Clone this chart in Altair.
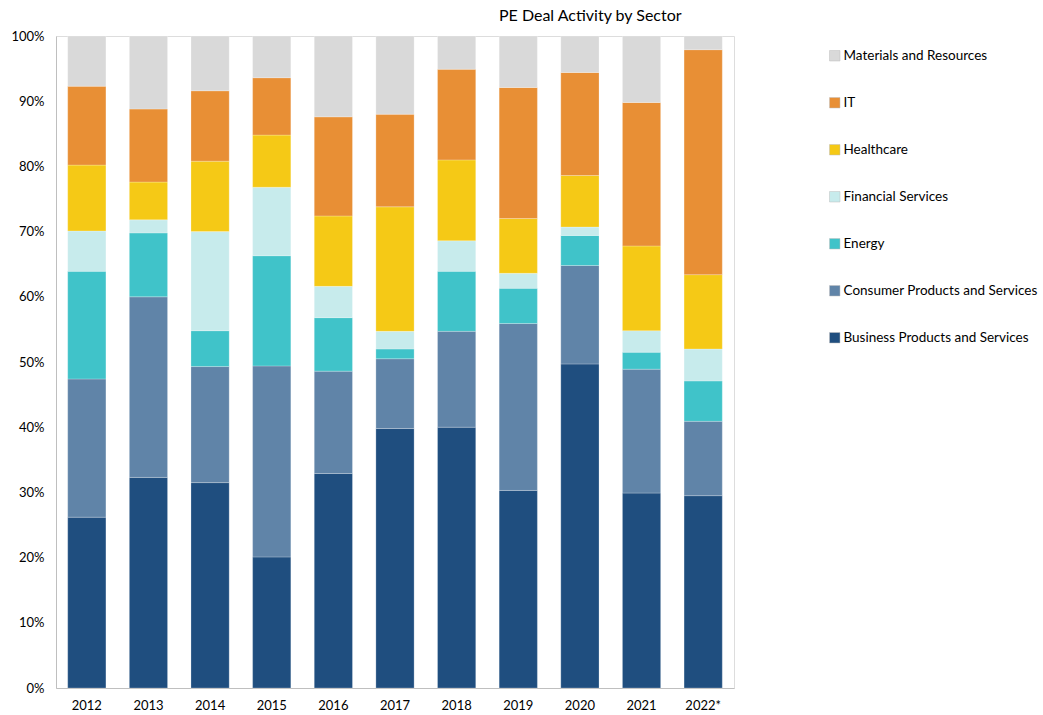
import altair as alt
import pandas as pd

years = ["2012", "2013", "2014", "2015", "2016", "2017", "2018", "2019", "2020", "2021", "2022*"]

# sectors listed bottom -> top of stack
sectors = [
    "Business Products and Services",
    "Consumer Products and Services",
    "Energy",
    "Financial Services",
    "Healthcare",
    "IT",
    "Materials and Resources",
]
colors = ["#1F4E7F", "#6084A8", "#40C3C9", "#C7EBEC", "#F5C916", "#E88F35", "#D9D9D9"]

business = [26.2, 32.3, 31.5, 20.1, 32.9, 39.8, 40.0, 30.3, 49.7, 29.9, 29.5]
consumer = [21.2, 27.7, 17.8, 29.3, 15.7, 10.7, 14.7, 25.6, 15.1, 19.0, 11.4]
energy = [16.5, 9.8, 5.5, 16.9, 8.2, 1.5, 9.2, 5.4, 4.6, 2.6, 6.2]
financial = [6.2, 2.0, 15.2, 10.5, 4.8, 2.7, 4.7, 2.3, 1.3, 3.3, 4.9]
healthcare = [10.1, 5.8, 10.8, 8.0, 10.8, 19.1, 12.4, 8.4, 7.9, 13.0, 11.4]
it = [12.1, 11.2, 10.8, 8.8, 15.2, 14.2, 13.9, 20.1, 15.8, 22.0, 34.5]
materials = [7.7, 11.2, 8.4, 6.4, 12.4, 12.0, 5.1, 7.9, 5.6, 10.2, 2.1]

series = [business, consumer, energy, financial, healthcare, it, materials]

rows = []
for si, (name, vals) in enumerate(zip(sectors, series)):
    for y, v in zip(years, vals):
        rows.append({"Year": y, "Sector": name, "Share": v, "idx": si})
df = pd.DataFrame(rows)

FONT = "Lato"

chart = (
    alt.Chart(df)
    .mark_bar(stroke="white", strokeWidth=0.4, strokeOpacity=0.6)
    .encode(
        x=alt.X(
            "Year:N",
            sort=years,
            title=None,
            scale=alt.Scale(paddingInner=0.38, paddingOuter=0.19),
            axis=alt.Axis(labelAngle=0, ticks=False, domainColor="#BFBFBF",
                          labelFontSize=13, labelColor="#000000", labelPadding=11),
        ),
        y=alt.Y(
            "Share:Q",
            stack="normalize",
            title=None,
            scale=alt.Scale(domain=[0, 1], nice=False),
            axis=alt.Axis(format=".0%", values=[i / 10 for i in range(11)], ticks=False,
                          grid=False, domainColor="#BFBFBF", labelFontSize=13,
                          labelColor="#000000", labelPadding=12),
        ),
        color=alt.Color(
            "Sector:N",
            scale=alt.Scale(domain=sectors[::-1], range=colors[::-1]),
            legend=alt.Legend(
                title=None,
                orient="none",
                legendX=772,
                legendY=13,
                rowPadding=32,
                symbolType="square",
                symbolSize=110,
                symbolStrokeColor="#BFBFBF",
                symbolStrokeWidth=0.5,
                labelFontSize=13.5,
                labelColor="#000000",
                labelOffset=2,
                labelLimit=0,
                padding=0,
            ),
        ),
        order=alt.Order("idx:Q", sort="ascending"),
    )
    .properties(
        width=678,
        height=652,
        title=alt.TitleParams(
            "PE Deal Activity by Sector",
            anchor="start",
            dx=488,
            fontSize=16,
            fontWeight="normal",
            font=FONT,
            color="#000000",
            offset=6,
        ),
        padding={"left": 10, "top": 8, "right": 0, "bottom": 0},
    )
    .configure_view(stroke="#D9D9D9", strokeWidth=1)
    .configure(font=FONT)
)

chart.save("out.html", embed_options={"renderer": "svg", "actions": False})
